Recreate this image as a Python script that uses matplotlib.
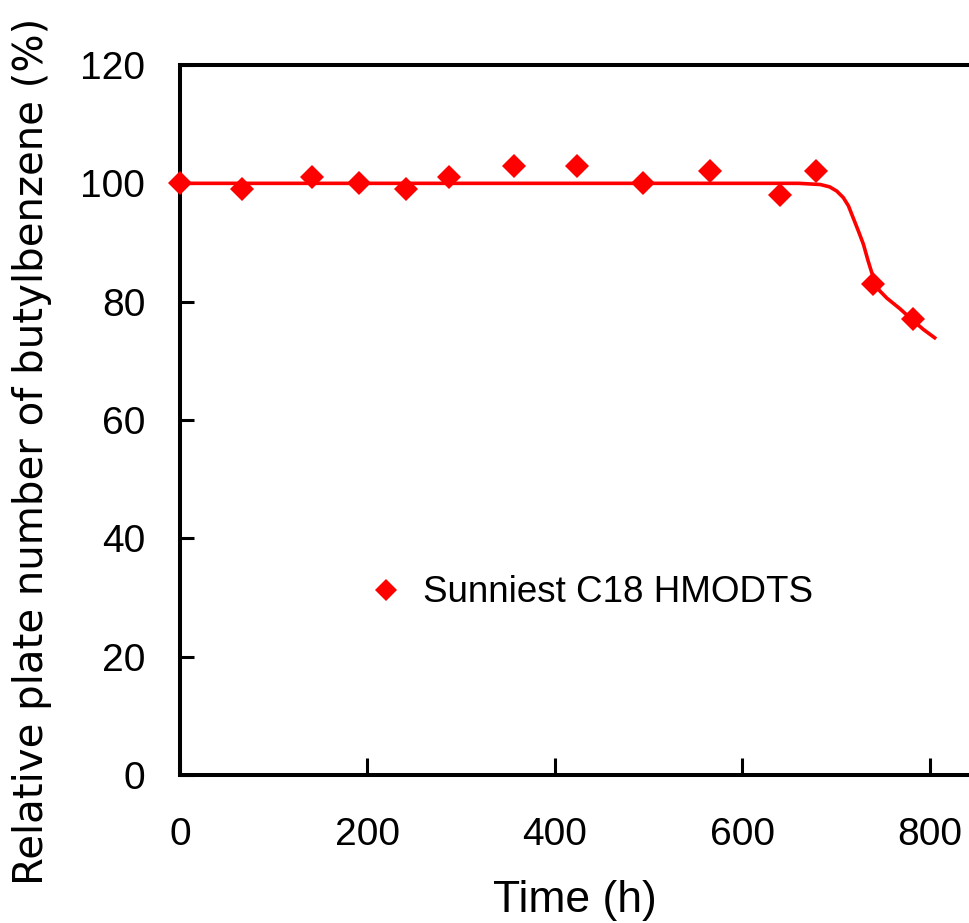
import matplotlib
matplotlib.use("Agg")
import matplotlib.pyplot as plt

# measured points
time_h = [0, 66, 141, 191, 241, 287, 356, 424, 494, 565, 640, 678, 739, 782]
plate_pct = [100, 99, 101, 100, 99, 101, 103, 103, 100, 102, 98, 102, 83, 77]

# fitted curve
fit_x = [0, 200, 400, 600, 660, 683, 693, 700.5, 707.5, 713, 718, 723.5, 729,
         734, 739.5, 746, 754, 761, 768, 775, 782, 793, 805]
fit_y = [100, 100, 100, 100, 100, 99.8, 99.4, 98.7, 97.6, 96.2, 94.2, 92.0, 89.7,
         86.9, 84.1, 81.9, 80.6, 79.7, 78.8, 77.8, 76.8, 75.3, 73.9]

x_ticks = [0, 200, 400, 600, 800]
y_ticks = [0, 20, 40, 60, 80, 100, 120]

RED = "#ff0000"
SANS = ["Liberation Sans", "DejaVu Sans"]

fig = plt.figure(figsize=(9.70, 9.23), dpi=100)
ax = fig.add_axes([180 / 970, 148 / 923, 790 / 970, 710 / 923])

ax.plot(fit_x, fit_y, "-", color=RED, lw=2.6, solid_joinstyle="round")
ax.plot(time_h, plate_pct, "D", color=RED, ms=12.5, mew=0, ls="none",
        clip_on=False, zorder=3, label="Sunniest C18 HMODTS")

ax.set_xlim(0, 842.7)
ax.set_ylim(0, 120)
ax.set_xticks(x_ticks)
ax.set_yticks(y_ticks)

for side in ("left", "top", "bottom"):
    ax.spines[side].set_linewidth(2.9)
ax.spines["right"].set_visible(False)

ax.tick_params(axis="x", direction="in", length=12, width=2.2, pad=30,
               top=False, labelsize=28)
ax.tick_params(axis="y", direction="in", length=10, width=2.2, pad=25,
               right=False, labelsize=28)
for lab in ax.get_xticklabels() + ax.get_yticklabels():
    lab.set_family(SANS)

ax.set_xlabel("Time (h)", fontsize=32, family=SANS)
ax.xaxis.set_label_coords(0.5, -0.1930)
ax.xaxis.label.set_va("baseline")

ax.set_ylabel("Relative plate number of butylbenzene (%)", fontsize=29,
              family=["DejaVu Sans"])
ax.yaxis.set_label_coords(-0.187, 0.456)
ax.yaxis.label.set_va("center")

ax.legend(loc="center left", bbox_to_anchor=(0.2147, 0.2564), frameon=False,
          borderpad=0, handlelength=1.0, handletextpad=0.5, numpoints=1,
          markerscale=0.9, prop={"family": "Liberation Sans", "size": 26.5})

fig.savefig("out.png", dpi=100)
